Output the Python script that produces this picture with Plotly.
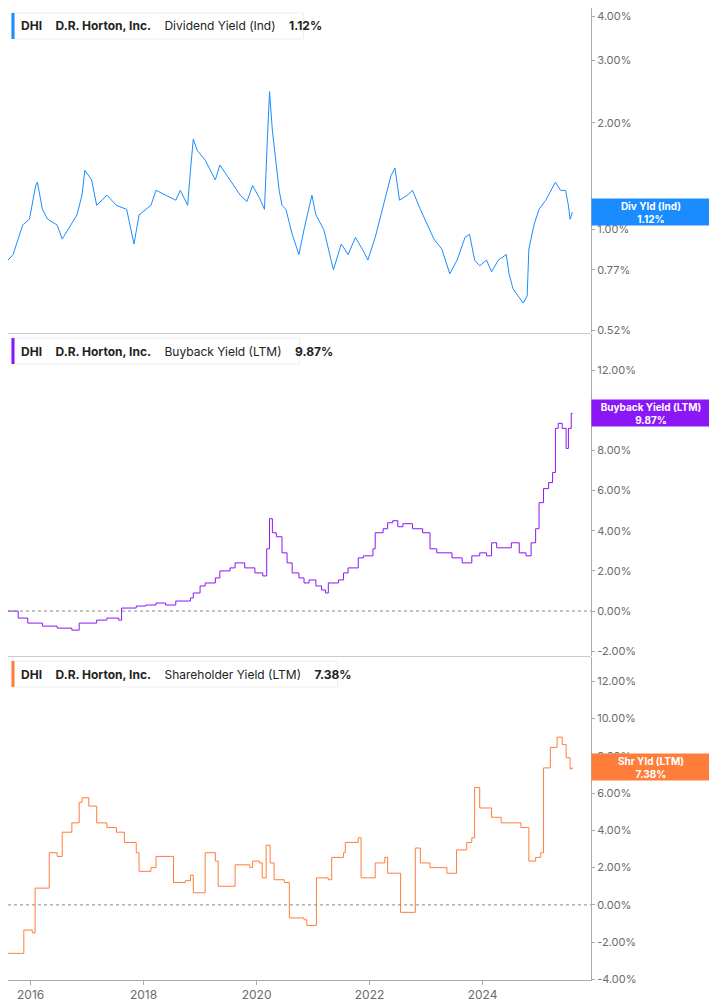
import plotly.graph_objects as go

# x positions as fractional years
div_x = [2015.60, 2015.69, 2015.86, 2015.98, 2016.09, 2016.12, 2016.21, 2016.30, 2016.47, 2016.56,
         2016.68, 2016.82, 2016.91, 2016.96, 2017.08, 2017.17, 2017.35, 2017.52, 2017.70, 2017.78,
         2017.83, 2017.92, 2018.13, 2018.22, 2018.39, 2018.57, 2018.65, 2018.78, 2018.83, 2018.88,
         2018.95, 2019.09, 2019.27, 2019.35, 2019.53, 2019.71, 2019.83, 2019.93, 2020.06, 2020.14,
         2020.19, 2020.23, 2020.28, 2020.35, 2020.40, 2020.45, 2020.52, 2020.63, 2020.75, 2020.84,
         2020.98, 2021.05, 2021.19, 2021.36, 2021.50, 2021.62, 2021.75, 2021.89, 2021.97, 2022.10,
         2022.24, 2022.38, 2022.45, 2022.53, 2022.67, 2022.76, 2022.90, 2023.02, 2023.14, 2023.28,
         2023.42, 2023.55, 2023.69, 2023.77, 2023.86, 2023.95, 2024.07, 2024.16, 2024.28, 2024.42,
         2024.47, 2024.54, 2024.65, 2024.72, 2024.79, 2024.82, 2024.91, 2025.00, 2025.12, 2025.21,
         2025.29, 2025.38, 2025.47, 2025.52, 2025.55, 2025.59]
div_y = [0.82, 0.85, 1.03, 1.07, 1.33, 1.36, 1.14, 1.07, 1.03, 0.94,
         1.01, 1.10, 1.25, 1.47, 1.38, 1.17, 1.25, 1.17, 1.14, 1.00,
         0.91, 1.10, 1.17, 1.29, 1.25, 1.21, 1.29, 1.17, 1.47, 1.80,
         1.67, 1.57, 1.38, 1.52, 1.38, 1.25, 1.20, 1.33, 1.22, 1.14,
         1.78, 2.45, 1.90, 1.52, 1.29, 1.17, 1.14, 0.97, 0.85, 1.00,
         1.25, 1.10, 1.00, 0.77, 0.91, 0.85, 0.95, 0.87, 0.82, 0.95,
         1.17, 1.42, 1.49, 1.21, 1.25, 1.29, 1.14, 1.03, 0.94, 0.88,
         0.75, 0.82, 0.95, 0.97, 0.82, 0.79, 0.82, 0.76, 0.82, 0.85,
         0.75, 0.68, 0.64, 0.62, 0.65, 0.88, 1.03, 1.14, 1.21, 1.29,
         1.36, 1.29, 1.29, 1.17, 1.07, 1.12]

bb_x = [2015.60, 2015.78, 2015.95, 2016.21, 2016.47, 2016.73, 2016.86, 2017.17, 2017.35, 2017.56,
        2017.61, 2017.87, 2018.04, 2018.22, 2018.39, 2018.57, 2018.83, 2018.88, 2019.00, 2019.09,
        2019.27, 2019.35, 2019.53, 2019.62, 2019.79, 2019.97, 2020.11, 2020.18, 2020.23, 2020.28,
        2020.35, 2020.45, 2020.54, 2020.63, 2020.75, 2020.84, 2020.93, 2021.05, 2021.15, 2021.22,
        2021.27, 2021.45, 2021.54, 2021.62, 2021.80, 2021.89, 2022.06, 2022.10, 2022.24, 2022.32,
        2022.41, 2022.50, 2022.59, 2022.76, 2022.94, 2023.07, 2023.19, 2023.32, 2023.46, 2023.64,
        2023.81, 2023.95, 2024.07, 2024.16, 2024.25, 2024.38, 2024.51, 2024.65, 2024.77, 2024.86,
        2024.94, 2025.00, 2025.08, 2025.17, 2025.24, 2025.29, 2025.34, 2025.41, 2025.48, 2025.52,
        2025.57, 2025.59]
bb_y = [0.00, -0.35, -0.60, -0.75, -0.85, -0.95, -0.60, -0.45, -0.35, -0.45,
        0.15, 0.25, 0.30, 0.40, 0.30, 0.50, 0.65, 0.90, 1.25, 1.40,
        1.65, 2.00, 2.15, 2.40, 2.15, 1.90, 1.75, 3.10, 4.60, 3.90,
        3.70, 2.90, 2.40, 1.90, 1.65, 1.40, 1.55, 1.25, 1.05, 0.90,
        1.40, 1.55, 1.90, 2.15, 2.65, 2.75, 3.10, 3.90, 4.10, 4.40,
        4.50, 4.20, 4.35, 4.10, 3.90, 3.10, 2.90, 2.90, 2.65, 2.40,
        2.75, 2.90, 2.75, 3.40, 3.15, 3.15, 3.40, 2.90, 2.75, 3.40,
        4.10, 5.40, 6.10, 6.40, 6.90, 9.10, 9.35, 9.10, 8.10, 9.10,
        9.85, 9.87]

sh_x = [2015.60, 2015.86, 2015.88, 2016.03, 2016.08, 2016.30, 2016.33, 2016.47, 2016.56, 2016.73,
        2016.86, 2016.91, 2017.03, 2017.17, 2017.35, 2017.52, 2017.66, 2017.87, 2017.92, 2018.13,
        2018.22, 2018.48, 2018.53, 2018.74, 2018.83, 2018.88, 2019.04, 2019.09, 2019.27, 2019.32,
        2019.58, 2019.62, 2019.88, 2019.93, 2020.05, 2020.10, 2020.17, 2020.24, 2020.31, 2020.49,
        2020.58, 2020.84, 2020.89, 2021.04, 2021.06, 2021.27, 2021.33, 2021.54, 2021.57, 2021.80,
        2021.85, 2022.06, 2022.10, 2022.27, 2022.32, 2022.48, 2022.55, 2022.80, 2022.81, 2022.90,
        2023.07, 2023.37, 2023.54, 2023.72, 2023.81, 2023.86, 2023.95, 2024.16, 2024.33, 2024.51,
        2024.68, 2024.80, 2024.82, 2024.94, 2025.03, 2025.08, 2025.20, 2025.32, 2025.41, 2025.48,
        2025.55, 2025.59]
sh_y = [-2.60, -2.60, -1.35, -1.50, 0.90, 0.90, 2.80, 2.60, 3.90, 4.40,
        5.50, 5.75, 5.30, 4.40, 4.15, 3.90, 3.35, 2.80, 1.80, 2.00,
        2.60, 2.60, 1.20, 1.30, 1.60, 0.65, 0.65, 2.80, 2.35, 1.00,
        1.00, 2.15, 2.00, 2.35, 2.25, 1.45, 3.20, 2.25, 1.35, 1.20,
        -0.70, -0.80, -1.10, -1.10, 1.45, 1.35, 2.55, 2.80, 3.35, 3.60,
        1.45, 1.45, 2.25, 2.55, 1.70, 1.70, -0.40, -0.40, 3.05, 2.25,
        2.00, 1.70, 2.95, 3.35, 3.60, 6.30, 5.20, 4.70, 4.40, 4.40,
        4.15, 4.15, 2.35, 2.55, 2.80, 7.35, 8.45, 9.00, 8.60, 7.90,
        7.30, 7.38]

year_ticks = [2016, 2018, 2020, 2022, 2024]
div_ticks = [0.52, 0.77, 1.00, 2.00, 3.00, 4.00]
bb_ticks = [-2, 0, 2, 4, 6, 8, 10, 12]
sh_ticks = [-4, -2, 0, 2, 4, 6, 8, 10, 12]

BLUE = "#1a8cff"
PURPLE = "#8a17f5"
ORANGE = "#ff7d3b"
GREY = "#6b6b6b"

fig = go.Figure()
fig.add_trace(go.Scatter(x=div_x, y=div_y, mode="lines", line=dict(color=BLUE, width=1),
                         xaxis="x", yaxis="y"))
fig.add_trace(go.Scatter(x=bb_x, y=bb_y, mode="lines", line=dict(color=PURPLE, width=1, shape="hv"),
                         xaxis="x2", yaxis="y2"))
fig.add_trace(go.Scatter(x=sh_x, y=sh_y, mode="lines", line=dict(color=ORANGE, width=1, shape="hv"),
                         xaxis="x3", yaxis="y3"))

xr = [2015.60, 2025.92]
xcommon = dict(range=xr, showgrid=False, zeroline=False, tickvals=year_ticks,
               ticktext=[str(t) for t in year_ticks])
ycommon = dict(side="right", showgrid=False, zeroline=False, showline=True, linecolor="#aaaaaa",
               ticks="outside", ticklen=3, tickcolor="#aaaaaa")
fig.update_layout(
    width=717, height=1005, margin=dict(l=0, r=134, t=0, b=33),
    plot_bgcolor="white", paper_bgcolor="white", showlegend=False,
    font=dict(family="Inter, Roboto, sans-serif", size=11, color=GREY),
    xaxis=dict(**xcommon, anchor="y", showticklabels=False),
    xaxis2=dict(**xcommon, anchor="y2", showticklabels=False, matches="x"),
    xaxis3=dict(**xcommon, anchor="y3", matches="x", showline=True, linecolor="#aaaaaa",
                ticks="outside", ticklen=4, tickcolor="#aaaaaa",
                tickfont=dict(size=12, color=GREY, family="Inter, sans-serif")),
    yaxis=dict(**ycommon, domain=[0.6656, 1], type="log", range=[-0.292, 0.625],
               tickvals=div_ticks, ticktext=[f"{t:.2f}%" for t in div_ticks]),
    yaxis2=dict(**ycommon, domain=[0.3333, 0.6646], range=[-2.24, 13.8],
                tickvals=bb_ticks, ticktext=[f"{t:.2f}%" for t in bb_ticks]),
    yaxis3=dict(**ycommon, domain=[0, 0.3323], range=[-4.03, 13.3],
                tickvals=sh_ticks, ticktext=[f"{t:.2f}%" for t in sh_ticks]),
)

# zero reference lines and panel dividers
for yref in ["y2", "y3"]:
    fig.add_shape(type="line", xref="paper", x0=0, x1=1, yref=yref, y0=0, y1=0,
                  line=dict(color="#888888", width=1, dash="dot"))
for yp in [0.6651, 0.3328]:
    fig.add_shape(type="line", xref="paper", x0=0, x1=1, yref="paper", y0=yp, y1=yp,
                  line=dict(color="#cccccc", width=1))

H = 972
panels = [
    ("y", 1.0, "Dividend Yield (Ind)", div_y[-1], BLUE, "Div Yld (Ind)", 292),
    ("y2", 0.6646, "Buyback Yield (LTM)", bb_y[-1], PURPLE, "Buyback Yield (LTM)", 288),
    ("y3", 0.3323, "Shareholder Yield (LTM)", sh_y[-1], ORANGE, "Shr Yld (LTM)", 326),
]
for yref, top, label, last, col, tag, boxw in panels:
    ypix = (1 - top) * H + (5 if yref == "y" else 4)
    y0 = 1 - ypix / H
    y1 = 1 - (ypix + 26) / H
    fig.add_shape(type="rect", xref="paper", yref="paper", x0=0.006, x1=0.006 + boxw / 583,
                  y0=y0, y1=y1, line=dict(color="#eeeeee", width=1), fillcolor="white")
    fig.add_shape(type="rect", xref="paper", yref="paper", x0=0.006, x1=0.006 + 3 / 583,
                  y0=y0, y1=y1, line=dict(width=0), fillcolor=col)
    fig.add_annotation(xref="paper", yref="paper", x=0.006 + 8 / 583, y=(y0 + y1) / 2,
                       xanchor="left", yanchor="middle", showarrow=False,
                       text=f"<b>DHI</b>    <b>D.R. Horton, Inc.</b>    {label}    <b>{last:.2f}%</b>",
                       font=dict(size=12, color="#222222", family="Inter, sans-serif"))
    fig.add_annotation(xref="paper", yref=yref, x=1, y=(0.0492 if yref == "y" else last),
                       xanchor="left", yanchor="middle", showarrow=False, width=118, height=26,
                       bgcolor=col, align="center", borderpad=0,
                       text=f"<b>{tag}<br>{last:.2f}%</b>",
                       font=dict(size=10, color="white", family="Inter, sans-serif"))

fig.write_html("out.html")
